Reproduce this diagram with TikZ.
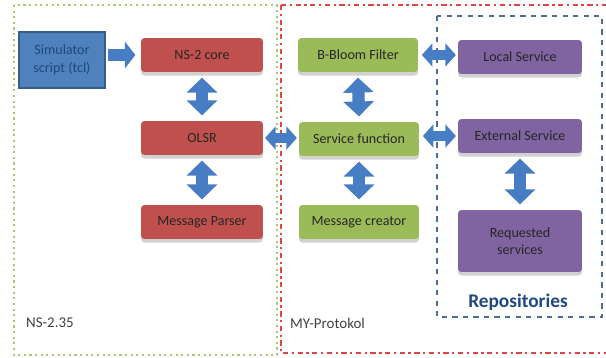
\documentclass[tikz,border=0pt]{standalone}
\usepackage{fontspec}
\setmainfont{Carlito}
\usetikzlibrary{arrows.meta,shadows}
\definecolor{nsred}{RGB}{192,80,77}
\definecolor{mygreen}{RGB}{155,187,89}
\definecolor{repopurple}{RGB}{128,100,162}
\definecolor{simblue}{RGB}{79,129,189}
\definecolor{simedge}{RGB}{56,93,138}
\definecolor{arrblue}{RGB}{70,125,195}
\definecolor{repoblue}{RGB}{31,73,125}
\definecolor{frameg}{RGB}{170,200,110}
\definecolor{framer}{RGB}{225,70,70}
\tikzset{
	box/.style={rounded corners=2pt, minimum height=0.68cm, align=center, text=black!85,
		font=\fontsize{8}{9.5}\selectfont,
		drop shadow={shadow xshift=0pt, shadow yshift=-2pt, fill=black!18, opacity=1}},
	nsbox/.style={box, fill=nsred, minimum width=2.44cm},
	mybox/.style={box, fill=mygreen, minimum width=2.4cm},
	repbox/.style={box, fill=repopurple, minimum width=2.48cm},
	vtip/.tip={Triangle[length=8.5pt, width=17pt]},
	htip/.tip={Triangle[length=6pt, width=13pt]},
	fat/.style={draw=arrblue, line width=7pt, -{Triangle[length=6pt, width=15pt]}},
	fatv/.style={draw=arrblue, line width=7pt, vtip-vtip},
	fath/.style={draw=arrblue, line width=5.5pt, htip-htip},
	lbl/.style={font=\fontsize{8.5}{10}\selectfont, text=black!75, anchor=west}
}
\begin{document}
\begin{tikzpicture}[x=0.02cm, y=-0.02cm]
	\useasboundingbox(0, 0)rectangle(606, 358);
	\draw[frameg, line width=1.2pt, dotted](14, 5)rectangle(277, 355);
	\draw[framer, line width=1.3pt, dash dot](281, 5)--(281, 353)--(606, 353);
	\draw[framer, line width=1.3pt, dash dot](281, 5)--(606, 5);
	\draw[repoblue!80, line width=1.3pt, dashed](437, 16)rectangle(602, 317);
	\node[draw=simedge, line width=1pt, fill=simblue, minimum width=1.72cm, minimum height=1.12cm, align=center, text=repoblue, font=\fontsize{8}{10}\selectfont](sim)at(62, 60){Simulator\\script (tcl)};
	\node[nsbox](core)at(202, 55){NS-2 core};
	\node[nsbox](olsr)at(202, 138){OLSR};
	\node[nsbox](parser)at(202, 222){Message Parser};
	\node[mybox](bloom)at(358, 55){B-Bloom Filter};
	\node[mybox](svc)at(359, 139){Service function};
	\node[mybox](creator)at(359, 222){Message creator};
	\node[repbox](local)at(520, 57){Local Service};
	\node[repbox](ext)at(520, 136){External Service};
	\node[repbox, minimum height=1.24cm](req)at(520, 241){Requested\\services};
	\node[font=\fontsize{11}{13}\selectfont\bfseries, text=repoblue](repo)at(518, 302){Repositories};
	\node[lbl](ns)at(20, 323){NS-2.35};
	\node[lbl](my)at(284, 323){MY-Protokol};
	\draw[fat]([xshift=1pt]sim.east |- core)--([xshift=-3pt]core.west);
	\draw[fatv]([yshift=-3pt]core.south)--([yshift=3pt]olsr.north);
	\draw[fatv]([yshift=-3pt]olsr.south)--([yshift=3pt]parser.north);
	\draw[fath]([xshift=1pt]olsr.east)--([xshift=-1pt]olsr.east -| svc.west);
	\draw[fatv]([yshift=-3pt]bloom.south)--([yshift=3pt]svc.north);
	\draw[fatv]([yshift=-3pt]svc.south)--([yshift=3pt]creator.north);
	\draw[fath]([xshift=2pt]bloom.east)--([xshift=-1pt]bloom.east -| local.west);
	\draw[fath]([xshift=2pt]ext.west -| svc.east)--([xshift=-1pt]ext.west);
	\draw[fatv]([yshift=-3pt]ext.south)--([yshift=3pt]req.north);
\end{tikzpicture}
\end{document}
